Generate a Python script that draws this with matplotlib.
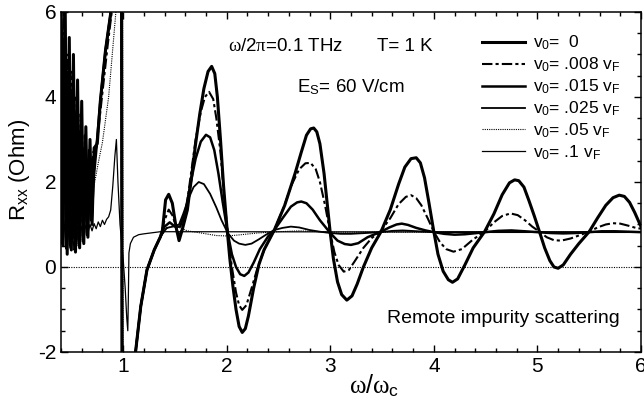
import matplotlib
matplotlib.use("Agg")
import matplotlib.pyplot as plt
from matplotlib.ticker import MultipleLocator

plt.rcParams['font.family'] = ['Liberation Sans', 'DejaVu Sans']
plt.rcParams['mathtext.fontset'] = 'custom'
plt.rcParams['mathtext.rm'] = 'Liberation Sans'
plt.rcParams['mathtext.it'] = 'Liberation Serif'
plt.rcParams['axes.unicode_minus'] = False

# v0 = 0  (thick solid)
x_v0 = [0.40, 0.42, 0.44, 0.46, 0.48, 0.50, 0.52, 0.54, 0.56, 0.58, 0.60, 0.62, 0.64, 0.66, 0.68, 0.70, 0.72,
        0.735, 0.75, 0.78, 0.83, 0.88, 0.92, 0.985, 0.99, 1.10,
        1.12, 1.17, 1.23, 1.30, 1.36, 1.38, 1.41, 1.44, 1.475, 1.51, 1.54, 1.57, 1.62, 1.66, 1.70, 1.74, 1.78,
        1.82, 1.855, 1.885, 1.91, 1.94, 1.97, 2.00, 2.03, 2.06, 2.09, 2.12, 2.15, 2.18, 2.21, 2.26, 2.31, 2.36,
        2.46, 2.56, 2.66, 2.72, 2.77, 2.81, 2.84, 2.87, 2.90, 2.94, 2.97, 3.00, 3.03, 3.07, 3.11, 3.16, 3.21,
        3.26, 3.32, 3.40, 3.49, 3.58, 3.66, 3.72, 3.78, 3.83, 3.87, 3.91, 3.95, 4.00, 4.04, 4.09, 4.14, 4.18,
        4.23, 4.30, 4.38, 4.49, 4.58, 4.66, 4.73, 4.78, 4.82, 4.87, 4.92, 4.97, 5.02, 5.07, 5.12, 5.16, 5.20,
        5.25, 5.32, 5.40, 5.50, 5.58, 5.66, 5.73, 5.79, 5.84, 5.89, 5.94, 6.00]
y_v0 = [7.0, 0.5, 6.3, 0.3, 5.4, 0.4, 5.0, 0.35, 4.4, 0.45, 3.9, 0.55, 3.3, 0.7, 3.0, 1.0, 2.8,
        2.85, 2.9, 3.9, 5.1, 5.97, 7.0, 7.0, -3.0, -3.0,
        -2.0, -0.93, -0.07, 0.40, 0.71, 0.87, 1.58, 1.71, 1.50, 0.95, 0.62, 0.87, 1.34, 2.1, 2.9, 3.6, 4.2,
        4.6, 4.72, 4.55, 4.0, 3.0, 1.9, 1.0, 0.2, -0.45, -1.0, -1.4, -1.54, -1.45, -1.15, -0.5, 0.05, 0.4,
        0.87, 1.45, 2.2, 2.7, 3.1, 3.25, 3.27, 3.18, 2.9, 2.2, 1.5, 0.8, 0.2, -0.35, -0.65, -0.78, -0.68,
        -0.4, 0.0, 0.45, 0.83, 1.35, 1.95, 2.35, 2.55, 2.57, 2.45, 2.1, 1.55, 0.83, 0.3, -0.1, -0.3, -0.36,
        -0.28, 0.05, 0.45, 0.83, 1.25, 1.7, 1.98, 2.05, 2.03, 1.88, 1.55, 1.2, 0.83, 0.45, 0.15, 0.0, -0.03,
        0.05, 0.3, 0.55, 0.83, 1.15, 1.45, 1.63, 1.69, 1.66, 1.52, 1.28, 0.95]

# v0 = .008 vF  (dash-dot)
x_008 = [0.40, 0.41, 0.43, 0.45, 0.47, 0.49, 0.51, 0.53, 0.55, 0.57, 0.59, 0.61, 0.63, 0.65, 0.67, 0.69, 0.71,
         0.74, 0.76, 0.80, 0.85, 0.89, 0.93, 0.985, 0.99, 1.10,
         1.12, 1.17, 1.23, 1.30, 1.36, 1.40, 1.44, 1.48, 1.52, 1.55, 1.60, 1.65, 1.70, 1.75, 1.79, 1.83, 1.87,
         1.90, 1.94, 1.97, 2.01, 2.05, 2.09, 2.12, 2.15, 2.19, 2.24, 2.30, 2.37, 2.46, 2.55, 2.63, 2.70, 2.76,
         2.81, 2.86, 2.90, 2.95, 3.00, 3.04, 3.08, 3.13, 3.18, 3.24, 3.32, 3.40, 3.49, 3.58, 3.66, 3.73, 3.78,
         3.83, 3.88, 3.94, 4.00, 4.06, 4.12, 4.19, 4.27, 4.38, 4.49, 4.58, 4.66, 4.74, 4.81, 4.88, 4.95, 5.02,
         5.09, 5.16, 5.23, 5.32, 5.41, 5.50, 5.58, 5.66, 5.73, 5.80, 5.88, 5.95, 6.00]
y_008 = [6.5, 0.6, 6.0, 0.4, 5.0, 0.45, 4.6, 0.4, 4.0, 0.5, 3.6, 0.6, 3.1, 0.75, 2.8, 1.1, 2.7,
         2.8, 3.2, 4.1, 5.2, 6.0, 7.0, 7.0, -3.0, -3.0,
         -2.0, -0.93, -0.07, 0.40, 0.71, 1.1, 1.35, 1.2, 0.85, 0.75, 1.2, 2.1, 3.0, 3.65, 4.0, 4.12, 3.95,
         3.5, 2.7, 1.8, 0.8, 0.0, -0.6, -0.9, -1.01, -0.9, -0.5, 0.0, 0.45, 0.87, 1.4, 1.95, 2.3, 2.44,
         2.45, 2.3, 2.0, 1.45, 0.8, 0.35, 0.05, -0.11, -0.07, 0.15, 0.45, 0.68, 0.85, 1.15, 1.48, 1.65, 1.69,
         1.62, 1.45, 1.15, 0.83, 0.58, 0.42, 0.36, 0.42, 0.65, 0.83, 1.05, 1.2, 1.26, 1.22, 1.1, 0.95, 0.83,
         0.7, 0.63, 0.62, 0.67, 0.75, 0.83, 0.93, 1.0, 1.03, 1.02, 0.97, 0.92, 0.9]

# v0 = .015 vF  (solid)
x_015 = [0.40, 0.41, 0.43, 0.45, 0.47, 0.49, 0.51, 0.53, 0.55, 0.57, 0.59, 0.61, 0.63, 0.65, 0.67, 0.69, 0.71,
         0.745, 0.78, 0.83, 0.88, 0.92, 0.985, 0.99, 1.10,
         1.12, 1.17, 1.23, 1.30, 1.36, 1.40, 1.45, 1.50, 1.55, 1.60, 1.65, 1.70, 1.75, 1.80, 1.84, 1.88, 1.92,
         1.96, 2.01, 2.05, 2.09, 2.13, 2.17, 2.21, 2.26, 2.32, 2.40, 2.46, 2.54, 2.62, 2.68, 2.72, 2.77, 2.83,
         2.90, 3.00, 3.07, 3.14, 3.20, 3.27, 3.36, 3.49, 3.57, 3.64, 3.69, 3.75, 3.83, 3.92, 4.00, 4.10, 4.20,
         4.30, 4.50, 4.62, 4.75, 4.88, 5.00, 5.12, 5.25, 5.38, 5.50, 5.62, 5.75, 5.88, 6.00]
y_015 = [5.8, 0.55, 5.3, 0.45, 4.6, 0.5, 4.1, 0.45, 3.6, 0.55, 3.2, 0.65, 2.8, 0.8, 2.5, 1.1, 2.4,
         2.9, 3.9, 5.1, 5.97, 7.0, 7.0, -3.0, -3.0,
         -2.0, -0.93, -0.07, 0.40, 0.71, 0.95, 1.05, 0.95, 0.95, 1.3, 1.95, 2.55, 2.95, 3.11, 3.05, 2.75, 2.2,
         1.55, 0.8, 0.3, 0.0, -0.17, -0.21, -0.13, 0.1, 0.42, 0.72, 0.87, 1.15, 1.42, 1.52, 1.54, 1.5, 1.35,
         1.1, 0.8, 0.62, 0.54, 0.52, 0.56, 0.7, 0.83, 0.93, 1.0, 1.02, 0.99, 0.92, 0.86, 0.82, 0.78, 0.76,
         0.77, 0.82, 0.85, 0.86, 0.84, 0.82, 0.8, 0.79, 0.8, 0.82, 0.84, 0.84, 0.83, 0.82]

# v0 = .025 vF  (thinner solid)
x_025 = [0.40, 0.42, 0.44, 0.46, 0.48, 0.50, 0.52, 0.54, 0.56, 0.58, 0.60, 0.62, 0.64, 0.66, 0.68, 0.70, 0.72,
         0.75, 0.78, 0.83, 0.88, 0.92, 0.985, 0.99, 1.10,
         1.12, 1.17, 1.23, 1.30, 1.36, 1.42, 1.48, 1.54, 1.58, 1.63, 1.68, 1.73, 1.78, 1.84, 1.90, 1.95, 2.01,
         2.07, 2.12, 2.18, 2.24, 2.31, 2.38, 2.46, 2.54, 2.62, 2.70, 2.80, 2.90, 3.00, 3.10, 3.20, 3.35, 3.49,
         3.60, 3.70, 3.85, 4.00, 6.00]
y_025 = [4.6, 0.6, 4.2, 0.5, 3.6, 0.55, 3.2, 0.5, 2.8, 0.6, 2.5, 0.7, 2.2, 0.85, 2.0, 1.1, 2.1,
         2.9, 3.9, 5.1, 5.97, 7.0, 7.0, -3.0, -3.0,
         -2.0, -0.93, -0.07, 0.40, 0.71, 0.92, 0.95, 1.0, 1.25, 1.6, 1.88, 2.0, 1.95, 1.72, 1.4, 1.1, 0.8,
         0.62, 0.55, 0.52, 0.55, 0.65, 0.76, 0.87, 0.92, 0.95, 0.93, 0.87, 0.83, 0.8, 0.78, 0.78, 0.8, 0.82,
         0.85, 0.86, 0.84, 0.82, 0.82]

# v0 = .05 vF  (dotted)
x_05 = [0.40, 0.42, 0.44, 0.46, 0.48, 0.50, 0.52, 0.54, 0.56, 0.58, 0.60, 0.62, 0.64, 0.67, 0.70, 0.73, 0.76,
        0.80, 0.86, 0.93, 0.96, 0.995, 1.0, 1.10,
        1.12, 1.17, 1.23, 1.30, 1.36, 1.42, 1.48, 1.54, 1.62, 1.75, 1.90, 2.00, 2.10, 2.30, 2.50, 2.70, 3.00, 6.00]
y_05 = [3.6, 0.55, 3.2, 0.5, 2.8, 0.55, 2.5, 0.6, 2.2, 0.7, 1.9, 0.8, 1.18, 1.42, 1.7, 2.05, 2.45,
        2.93, 4.0, 6.0, 7.0, 7.0, -3.0, -3.0,
        -2.0, -0.93, -0.07, 0.40, 0.71, 0.9, 0.97, 0.93, 0.85, 0.8, 0.74, 0.73, 0.75, 0.8, 0.83, 0.85, 0.82, 0.82]

# v0 = .1 vF  (thin solid)
x_1 = [0.40, 0.42, 0.44, 0.46, 0.48, 0.50, 0.52, 0.54, 0.56, 0.58, 0.60, 0.62, 0.64, 0.66, 0.68, 0.70, 0.72,
       0.74, 0.76, 0.78, 0.80, 0.82, 0.84, 0.86, 0.88, 0.90, 0.92, 0.935, 0.95, 0.97, 1.00, 1.02, 1.035, 1.045,
       1.05, 1.056, 1.07, 1.10, 1.15, 1.20, 1.36, 6.00]
y_1 = [1.2, 0.5, 1.1, 0.45, 1.0, 0.5, 0.95, 0.55, 0.95, 0.7, 0.95, 0.75, 0.98, 0.8, 1.0, 0.85, 1.02,
       0.9, 1.06, 0.95, 1.1, 1.0, 1.12, 1.18, 1.34, 1.9, 2.6, 3.0, 2.0, 1.0, 0.2, -0.5, -1.2, -1.5,
       -0.8, 0.33, 0.55, 0.7, 0.76, 0.78, 0.83, 0.82]

series = [
    (x_v0, y_v0, r'v$_\mathrm{0}$=  0'),
    (x_008, y_008, r'v$_\mathrm{0}$= .008 v$_\mathrm{F}$'),
    (x_015, y_015, r'v$_\mathrm{0}$= .015 v$_\mathrm{F}$'),
    (x_025, y_025, r'v$_\mathrm{0}$= .025 v$_\mathrm{F}$'),
    (x_05, y_05, r'v$_\mathrm{0}$= .05 v$_\mathrm{F}$'),
    (x_1, y_1, r'v$_\mathrm{0}$= .1 v$_\mathrm{F}$'),
]
styles = [
    dict(lw=2.2, ls='-'),
    dict(lw=1.5, ls=(0, (5, 1.5, 1.5, 1.5))),
    dict(lw=1.8, ls='-'),
    dict(lw=1.3, ls='-'),
    dict(lw=0.8, ls=(0, (1, 1))),
    dict(lw=0.9, ls='-'),
]

fig = plt.figure(figsize=(6.44, 4.09), dpi=100)
ax = fig.add_axes([0.0947, 0.1394, 0.9006, 0.8313])

ax.axhline(0, color='k', lw=0.8, ls=(0, (1, 1.2)))
for (xs, ys, lab), st in zip(series, styles):
    ax.plot(xs, ys, color='k', label=lab, **st)

ax.set_xlim(0.4, 6)
ax.set_ylim(-2, 6)
ax.xaxis.set_major_locator(MultipleLocator(1))
ax.xaxis.set_minor_locator(MultipleLocator(0.2))
ax.yaxis.set_major_locator(MultipleLocator(2))
ax.yaxis.set_minor_locator(MultipleLocator(0.5))
ax.tick_params(which='both', direction='in', top=True, right=True, width=1.0, labelsize=15)
ax.tick_params(which='major', length=5)
ax.tick_params(which='minor', length=3)
for s in ax.spines.values():
    s.set_linewidth(1.1)

ax.set_xlabel(r'$\omega/\omega_\mathrm{c}$', fontsize=18)
ax.set_ylabel(r'R$_\mathrm{xx}$ (Ohm)', fontsize=16)
ax.xaxis.set_label_coords(0.54, -0.06)
ax.yaxis.set_label_coords(-0.05, 0.535)

ax.text(0.288, 0.885, r'$\omega$/2$\pi$=0.1 THz', transform=ax.transAxes, fontsize=13.5, va='baseline')
ax.text(0.545, 0.885, 'T= 1 K', transform=ax.transAxes, fontsize=13.5, va='baseline')
ax.text(0.407, 0.764, r'E$_\mathrm{S}$= 60 V/cm', transform=ax.transAxes, fontsize=13.5, va='baseline')
ax.text(0.562, 0.085, 'Remote impurity scattering', transform=ax.transAxes, fontsize=14, va='baseline')

ax.legend(loc='upper left', bbox_to_anchor=(0.726, 0.935), frameon=False, fontsize=12.5,
          handlelength=2.5, handletextpad=0.45, labelspacing=0.2, borderpad=0, borderaxespad=0)

fig.savefig('out.png', dpi=100)
